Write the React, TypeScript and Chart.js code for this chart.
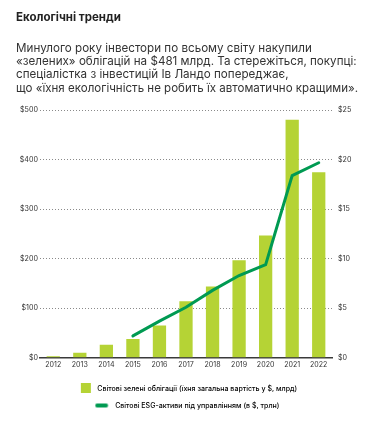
import React, { useEffect, useRef } from 'react';
import { Chart, registerables } from 'chart.js';

Chart.register(...registerables);

const years = ['2012', '2013', '2014', '2015', '2016', '2017', '2018', '2019', '2020', '2021', '2022'];
const greenBonds = [3, 10, 26, 38, 65, 114, 144, 197, 247, 481, 375];
const esgAssets = [null, null, null, 2.2, 3.7, 5.1, 6.8, 8.3, 9.4, 18.4, 19.7];
const titleText = 'Екологічні тренди';
const subtitleLines = [
  'Минулого року інвестори по всьому світу накупили',
  '«зелених» облігацій на $481 млрд. Та стережіться, покупці:',
  'спеціалістка з інвестицій Ів Ландо попереджає,',
  'що «їхня екологічність не робить їх автоматично кращими».',
];
const legendLabels = [
  'Світові зелені облігації (їхня загальна вартість у $, млрд)',
  'Світові ESG-активи під управлінням (в $, трлн)',
];

const BAR_COLOR = '#b5d335';
const LINE_COLOR = '#009a52';
const FONT = 'Inter';

function fitSize(text: string, weight: string | number, target: number, lo: number, hi: number) {
  const ctx = document.createElement('canvas').getContext('2d')!;
  ctx.font = `${weight} 100px ${FONT}`;
  const w = ctx.measureText(text).width;
  const s = w > 0 ? (100 * target) / w : (lo + hi) / 2;
  return Math.max(lo, Math.min(hi, s));
}

function makeIcon(kind: 'square' | 'line', textGapBox: number) {
  const c = document.createElement('canvas');
  c.width = 17;
  c.height = 10;
  const g = c.getContext('2d')!;
  if (kind === 'square') {
    g.fillStyle = BAR_COLOR;
    g.fillRect(textGapBox, 0, 10, 10);
  } else {
    g.strokeStyle = LINE_COLOR;
    g.lineWidth = 4;
    g.lineCap = 'round';
    g.beginPath();
    g.moveTo(2.5, 5);
    g.lineTo(11.5, 5);
    g.stroke();
  }
  return c;
}

export default function App() {
  const ref = useRef<HTMLCanvasElement | null>(null);

  useEffect(() => {
    if (!ref.current) return;
    const titleSize = fitSize(titleText, 'bold', 105, 10.5, 13.5);
    const subSize = fitSize(subtitleLines[1], 'normal', 341, 10, 13);
    const legSize =
      (fitSize(legendLabels[0], 500, 201, 6, 9) + fitSize(legendLabels[1], 500, 164, 6, 9)) / 2;
    const xTickSize = fitSize('2012', 'normal', 16, 6.5, 9.5);
    const yTickSize = fitSize('$500', 'normal', 18, 6.5, 9.5);
    const legPad = 17 - legSize;
    const sqIcon = makeIcon('square', Math.round(17 + legSize / 2 - 7 - 10));
    const lnIcon = makeIcon('line', 0);
    const chart = new Chart(ref.current, {
      data: {
        labels: years,
        datasets: [
          {
            type: 'line',
            label: legendLabels[1],
            data: esgAssets,
            yAxisID: 'y1',
            borderColor: LINE_COLOR,
            borderWidth: 3,
            pointRadius: 0,
            tension: 0,
            borderCapStyle: 'round',
            order: 0,
          },
          {
            type: 'bar',
            label: legendLabels[0],
            data: greenBonds,
            yAxisID: 'y',
            backgroundColor: BAR_COLOR,
            barPercentage: 0.625,
            categoryPercentage: 0.8,
            order: 1,
          },
        ],
      } as any,
      options: {
        animation: false,
        responsive: true,
        maintainAspectRatio: false,
        layout: { padding: { left: 8, right: 0, top: 0, bottom: 0 } },
        plugins: {
          tooltip: { enabled: false },
          title: {
            display: true,
            text: titleText,
            align: 'start',
            color: '#222',
            font: { family: FONT, size: titleSize, weight: 'bold', lineHeight: '15px' },
            padding: { top: 2.5, bottom: 0 },
          },
          subtitle: {
            display: true,
            text: subtitleLines,
            align: 'start',
            color: '#333',
            font: { family: FONT, size: subSize, weight: 'normal', lineHeight: '13.4px' },
            padding: { top: 15.8, bottom: 15.4 },
          },
          legend: {
            position: 'bottom',
            align: 'center',
            labels: {
              usePointStyle: true,
              pointStyleWidth: 17,
              boxHeight: legSize,
              padding: legPad,
              color: '#444',
              font: { family: FONT, size: legSize, weight: 500 },
              generateLabels: () => [
                { text: legendLabels[0], pointStyle: sqIcon, fillStyle: BAR_COLOR, strokeStyle: BAR_COLOR, lineWidth: 0, hidden: false, datasetIndex: 1 },
                { text: legendLabels[1], pointStyle: lnIcon, fillStyle: LINE_COLOR, strokeStyle: LINE_COLOR, lineWidth: 0, hidden: false, datasetIndex: 0 },
              ] as any,
            },
          },
        },
        scales: {
          x: {
            type: 'category',
            offset: true,
            grid: { display: false, drawTicks: false },
            border: { display: true, color: '#3a3a3a', width: 1.5 },
            ticks: { color: '#333', padding: 3, font: { family: FONT, size: xTickSize } },
            afterFit: (s: any) => { s.height = 17.3; },
          },
          y: {
            position: 'left',
            min: 0,
            max: 500,
            ticks: {
              stepSize: 100,
              padding: 2,
              color: '#333',
              font: { family: FONT, size: yTickSize },
              callback: (v: any) => '$' + v,
            },
            grid: {
              drawTicks: false,
              color: (c: any) => (c.tick && c.tick.value === 0 ? 'rgba(0,0,0,0)' : '#8a8a8a'),
              lineWidth: 1,
            },
            border: { display: false, dash: [1, 2] },
            afterFit: (s: any) => { s.width = 24; },
          },
          y1: {
            position: 'right',
            min: 0,
            max: 25,
            ticks: {
              stepSize: 5,
              padding: 6,
              color: '#333',
              font: { family: FONT, size: yTickSize },
              callback: (v: any) => '$' + v,
            },
            grid: { display: false, drawTicks: false },
            border: { display: false },
            afterFit: (s: any) => { s.width = 26; },
          },
        },
      } as any,
    });
    return () => chart.destroy();
  }, []);

  return (
    <div style={{ position: 'relative', width: 350, height: 411 }}>
      <canvas ref={ref} />
    </div>
  );
}
